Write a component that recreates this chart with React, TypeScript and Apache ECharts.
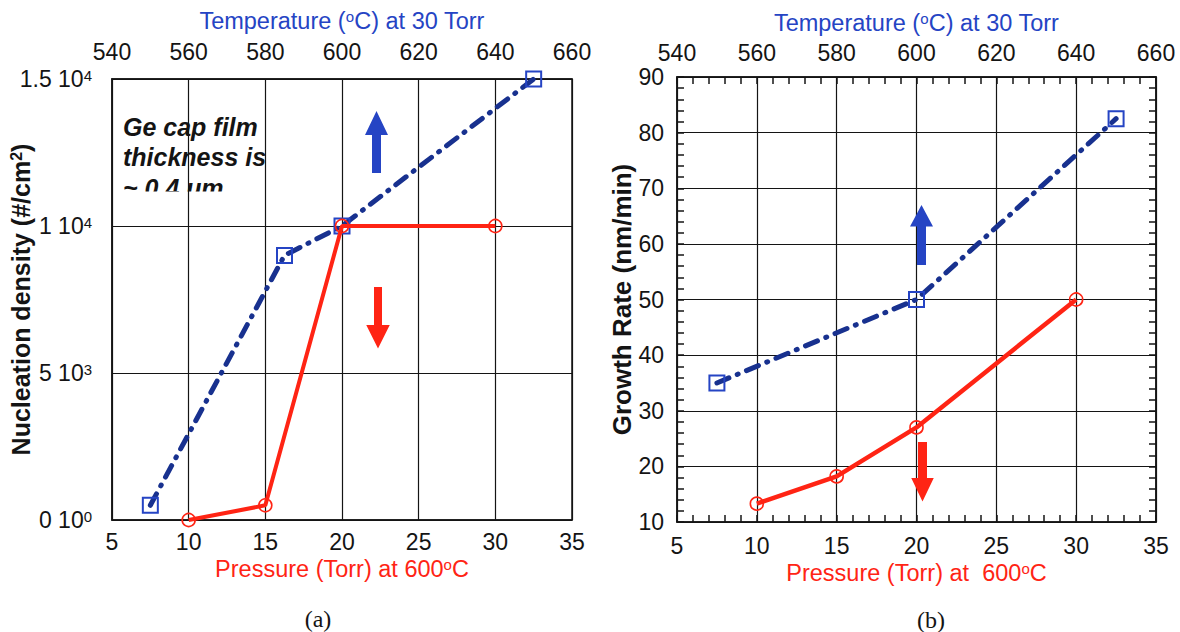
import React, { useEffect, useRef } from 'react';
import * as echarts from 'echarts';

// ---- data ----
const pressureA = [10, 15, 20, 30];
const nucleationRed = [0, 500, 10000, 10000];
const temperatureA = [550, 585, 600, 650];
const nucleationBlue = [500, 9000, 10000, 15000];

const pressureB = [10, 15, 20, 30];
const growthRed = [13.3, 18.2, 27, 50];
const temperatureB = [550, 600, 650];
const growthBlue = [35, 50, 82.5];

const nucleationTickValues = [0, 5000, 10000, 15000];
const nucleationTickMantissa = ['0', '5', '1', '1.5'];
const nucleationTickExponent = ['0', '3', '4', '4'];

const FF = '"Liberation Sans", Arial, Helvetica, sans-serif';
const BLACK = '#141414';
const RED = '#ff2414';
const NAVY = '#18318f';
const BLUE = '#2544c4';

const supRich = (color: string, size: number, bold = false) => ({
  s: { fontSize: size, lineHeight: size, verticalAlign: 'top', color, fontFamily: FF, fontWeight: bold ? 'bold' : 'normal' },
});

const axisLine = { show: true, lineStyle: { color: BLACK, width: 1.5 } };
const splitLine = { show: true, lineStyle: { color: BLACK, width: 1.2, type: 'solid' } };
const tickLabel = { fontSize: 23, fontFamily: FF, color: BLACK };
const innerTick = { show: true, inside: true, length: 7, lineStyle: { color: BLACK, width: 1.5 } };
const innerMinor = (n: number) => ({ show: true, splitNumber: n, length: 7, lineStyle: { color: BLACK, width: 1.5 } });

function arrowUp(cx: number, tipY: number, headY: number, bottomY: number, shaftW: number, headW: number, color: string) {
  const s = shaftW / 2, h = headW / 2;
  return {
    type: 'polygon', z: 50,
    shape: { points: [[cx - s, bottomY], [cx + s, bottomY], [cx + s, headY], [cx + h, headY], [cx, tipY], [cx - h, headY], [cx - s, headY]] },
    style: { fill: color },
  };
}

export default function App() {
  const ref = useRef<HTMLDivElement>(null);
  useEffect(() => {
    if (!ref.current) return;
    const chart = echarts.init(ref.current, undefined, { renderer: 'svg' });
    const option: any = {
      animation: false,
      backgroundColor: '#ffffff',
      grid: [
        { left: 112, top: 79, width: 460, height: 441, show: true, borderColor: BLACK, borderWidth: 1.5, containLabel: false, outerBoundsMode: 'none' },
        { left: 677, top: 77, width: 479, height: 445, show: true, borderColor: BLACK, borderWidth: 1.5, containLabel: false, outerBoundsMode: 'none' },
      ],
      xAxis: [
        {
          gridIndex: 0, type: 'value', position: 'bottom', min: 5, max: 35, interval: 5,
          axisLine, axisTick: { show: false }, splitLine,
          axisLabel: { ...tickLabel, margin: 10 },
          name: 'Pressure (Torr) at 600{s|o}C', nameLocation: 'middle', nameGap: 37, nameMoveOverlap: false,
          nameTextStyle: { fontSize: 23.5, fontFamily: FF, color: RED, rich: supRich(RED, 15) },
        },
        {
          gridIndex: 0, type: 'value', position: 'top', min: 540, max: 660, interval: 20,
          axisLine, axisTick: { show: false }, splitLine: { show: false },
          axisLabel: { ...tickLabel, margin: 16 },
          name: 'Temperature ({s|o}C) at 30 Torr', nameLocation: 'middle', nameGap: 46, nameMoveOverlap: false,
          nameTextStyle: { fontSize: 23.5, fontFamily: FF, color: BLUE, rich: supRich(BLUE, 15) },
        },
        {
          gridIndex: 1, type: 'value', position: 'bottom', min: 5, max: 35, interval: 5,
          axisLine, axisTick: innerTick, minorTick: innerMinor(5),
          splitLine,
          axisLabel: { ...tickLabel, margin: 12 },
          name: 'Pressure (Torr) at  600{s|o}C', nameLocation: 'middle', nameGap: 39, nameMoveOverlap: false,
          nameTextStyle: { fontSize: 23.5, fontFamily: FF, color: RED, rich: supRich(RED, 15) },
        },
        {
          gridIndex: 1, type: 'value', position: 'top', min: 540, max: 660, interval: 20,
          axisLine, axisTick: innerTick, minorTick: innerMinor(5),
          splitLine: { show: false },
          axisLabel: { ...tickLabel, margin: 13 },
          name: 'Temperature ({s|o}C) at 30 Torr', nameLocation: 'middle', nameGap: 42, nameMoveOverlap: false,
          nameTextStyle: { fontSize: 23.5, fontFamily: FF, color: BLUE, rich: supRich(BLUE, 15) },
        },
      ],
      yAxis: [
        {
          gridIndex: 0, type: 'value', position: 'left', min: 0, max: 15000, interval: 5000,
          axisLine, axisTick: { show: false }, splitLine,
          axisLabel: {
            margin: 20,
            formatter: (v: number) => {
              const i = nucleationTickValues.indexOf(v);
              if (i < 0) return '';
              return `{m|${nucleationTickMantissa[i]} 10}{e|${nucleationTickExponent[i]}}`;
            },
            rich: {
              m: { fontSize: 23, fontFamily: FF, color: BLACK, lineHeight: 23 },
              e: { fontSize: 15, fontFamily: FF, color: BLACK, lineHeight: 15, verticalAlign: 'top' },
            },
          },
          name: 'Nucleation density (#/cm{s|2})', nameLocation: 'middle', nameGap: 79, nameMoveOverlap: false,
          nameTextStyle: { fontSize: 25, fontWeight: 'bold', fontFamily: FF, color: BLACK, rich: supRich(BLACK, 16, true) },
        },
        {
          gridIndex: 1, type: 'value', position: 'left', min: 10, max: 90, interval: 10,
          axisLine, axisTick: innerTick, minorTick: innerMinor(5),
          splitLine,
          axisLabel: { ...tickLabel, margin: 13 },
          name: 'Growth Rate (nm/min)', nameLocation: 'middle', nameGap: 42, nameMoveOverlap: false,
          nameTextStyle: { fontSize: 26, fontWeight: 'bold', fontFamily: FF, color: BLACK },
        },
        {
          gridIndex: 1, type: 'value', position: 'right', min: 10, max: 90, interval: 10,
          axisLine, axisTick: innerTick, minorTick: innerMinor(5),
          splitLine: { show: false }, axisLabel: { show: false },
        },
      ],
      series: [
        {
          type: 'line', xAxisIndex: 1, yAxisIndex: 0, z: 3,
          data: temperatureA.map((t, i) => [t, nucleationBlue[i]]),
          lineStyle: { color: NAVY, width: 5, type: [13, 9, 1, 9], cap: 'round' },
          symbol: 'rect', symbolSize: 15,
          itemStyle: { color: 'rgba(255,255,255,0)', borderColor: BLUE, borderWidth: 2 },
        },
        {
          type: 'line', xAxisIndex: 0, yAxisIndex: 0, z: 4,
          data: pressureA.map((p, i) => [p, nucleationRed[i]]),
          lineStyle: { color: RED, width: 4 },
          symbol: 'circle', symbolSize: 13,
          itemStyle: { color: 'rgba(255,255,255,0)', borderColor: RED, borderWidth: 1.6 },
        },
        {
          type: 'line', xAxisIndex: 3, yAxisIndex: 1, z: 3,
          data: temperatureB.map((t, i) => [t, growthBlue[i]]),
          lineStyle: { color: NAVY, width: 5, type: [13, 9, 1, 9], cap: 'round' },
          symbol: 'rect', symbolSize: 15,
          itemStyle: { color: 'rgba(255,255,255,0)', borderColor: BLUE, borderWidth: 2 },
        },
        {
          type: 'line', xAxisIndex: 2, yAxisIndex: 1, z: 4,
          data: pressureB.map((p, i) => [p, growthRed[i]]),
          lineStyle: { color: RED, width: 4.5 },
          symbol: 'circle', symbolSize: 13,
          itemStyle: { color: 'rgba(255,255,255,0)', borderColor: RED, borderWidth: 1.6 },
        },
      ],
      graphic: [
        // annotation sits beneath the grid lines; its third line is cut off as in the reference
        {
          type: 'text', x: 123, y: 112, z: -10,
          style: {
            text: 'Ge cap film\nthickness is\n~ 0.4 \u03bcm',
            font: `italic bold 25px ${FF}`, lineHeight: 30.3, fill: BLACK,
          },
        },
        { type: 'rect', z: -9, shape: { x: 120, y: 191.5, width: 130, height: 22 }, style: { fill: '#ffffff' } },
        arrowUp(376.5, 111, 135, 173, 9, 23, BLUE),
        arrowUp(378, 348.5, 325, 287, 8, 23.5, RED),
        arrowUp(921.5, 205, 226.5, 265, 9, 23, BLUE),
        arrowUp(922.5, 501.5, 478, 442, 9, 22.5, RED),
        {
          type: 'text', x: 318, y: 619, z: 40,
          style: { text: '(a)', font: '24px "Liberation Serif", "Times New Roman", serif', fill: BLACK, align: 'center', verticalAlign: 'middle' },
        },
        {
          type: 'text', x: 931, y: 620, z: 40,
          style: { text: '(b)', font: '24px "Liberation Serif", "Times New Roman", serif', fill: BLACK, align: 'center', verticalAlign: 'middle' },
        },
      ],
    };
    chart.setOption(option);
    return () => chart.dispose();
  }, []);
  return (
    <div
      ref={ref}
      style={{ position: 'absolute', left: 0, top: 0, width: 1180, height: 632, background: '#ffffff' }}
    />
  );
}
